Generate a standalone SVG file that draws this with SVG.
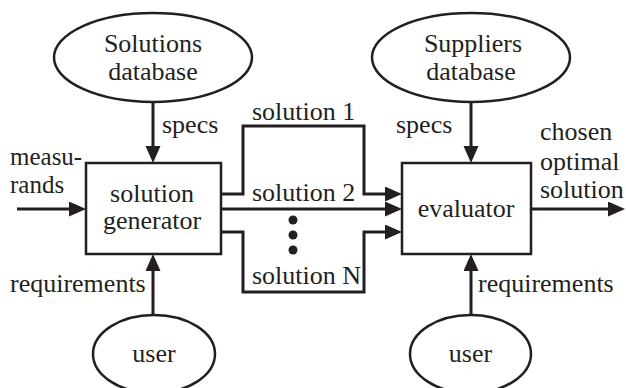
<svg xmlns="http://www.w3.org/2000/svg" width="626" height="388" viewBox="0 0 626 388">
<style>
text{font-family:"Liberation Serif","Times New Roman",serif;font-size:26px;fill:#231f20}
.c{text-anchor:middle}
.sm{font-size:25px}
.shape{fill:#fff;stroke:#231f20;stroke-width:2.5}
.ln{fill:none;stroke:#231f20;stroke-width:3}
.dot{fill:#231f20}
</style>
<defs>
<marker id="ah" markerUnits="userSpaceOnUse" markerWidth="18" markerHeight="16" refX="0" refY="7.5" orient="auto">
<path d="M0,0 L17,7.5 L0,15 Z" fill="#231f20"/>
</marker>
</defs>
<rect width="626" height="388" fill="#fff"/>
<g id="connectors">
<line class="ln" x1="153" y1="102" x2="153" y2="146" marker-end="url(#ah)"/>
<line class="ln" x1="471" y1="102" x2="471" y2="146" marker-end="url(#ah)"/>
<line class="ln" x1="17" y1="209" x2="69" y2="209" marker-end="url(#ah)"/>
<line class="ln" x1="153" y1="315" x2="153" y2="271" marker-end="url(#ah)"/>
<line class="ln" x1="471" y1="315" x2="471" y2="271" marker-end="url(#ah)"/>
<polyline class="ln" points="221,194 243,194 243,126 364,126 364,194 385,194" marker-end="url(#ah)"/>
<line class="ln" x1="221" y1="209" x2="385" y2="209" marker-end="url(#ah)"/>
<polyline class="ln" points="221,232 243,232 243,292 364,292 364,232 385,232" marker-end="url(#ah)"/>
<line class="ln" x1="531" y1="209" x2="608" y2="209" marker-end="url(#ah)"/>
<circle class="dot" cx="293" cy="220" r="4.5"/>
<circle class="dot" cx="293" cy="235" r="4.5"/>
<circle class="dot" cx="293" cy="250" r="4.5"/>
<text x="162" y="133">specs</text>
<text x="396" y="133">specs</text>
<text class="sm" x="10" y="165">measu-</text>
<text class="sm" x="10" y="193">rands</text>
<text x="252" y="120">solution 1</text>
<text x="252" y="201">solution 2</text>
<text x="252" y="284">solution N</text>
<text x="540" y="140">chosen</text>
<text x="540" y="170">optimal</text>
<text x="540" y="198">solution</text>
<text x="10" y="292">requirements</text>
<text x="478" y="292">requirements</text>
</g>
<g id="solutions-db">
<ellipse class="shape" cx="153" cy="57.5" rx="99" ry="44.5"/>
<text class="c" x="153" y="52">Solutions</text>
<text class="c" x="153" y="80">database</text>
</g>
<g id="suppliers-db">
<ellipse class="shape" cx="471" cy="57.5" rx="99" ry="44.5"/>
<text class="c" x="473" y="52">Suppliers</text>
<text class="c" x="471" y="80">database</text>
</g>
<g id="generator">
<rect class="shape" x="86" y="163" width="135" height="91"/>
<text class="c" x="152" y="202">solution</text>
<text class="c" x="152" y="229">generator</text>
</g>
<g id="evaluator">
<rect class="shape" x="402" y="163" width="129" height="91"/>
<text class="c" x="466" y="217">evaluator</text>
</g>
<g id="user-left">
<ellipse class="shape" cx="154" cy="354" rx="61" ry="39"/>
<text class="c" x="154" y="362">user</text>
</g>
<g id="user-right">
<ellipse class="shape" cx="470.5" cy="354" rx="60.5" ry="39"/>
<text class="c" x="470.5" y="362">user</text>
</g>
</svg>
